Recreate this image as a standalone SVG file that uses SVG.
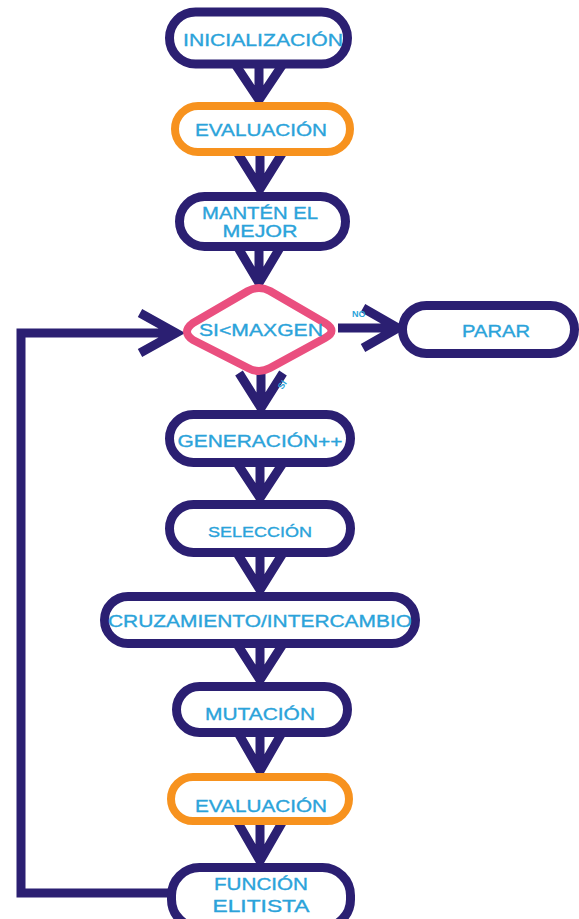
<svg xmlns="http://www.w3.org/2000/svg" width="579" height="919" viewBox="0 0 579 919">
<defs>
<style>
.nv{fill:#ffffff;stroke:#2b1f72;stroke-width:9}
.or{fill:#ffffff;stroke:#f7921e;stroke-width:8}
.pk{fill:#ffffff;stroke:#ea4f7f;stroke-width:8;stroke-linejoin:round}
.t{font-family:"Liberation Sans",Arial,sans-serif;font-size:17px;fill:#2ba3da;stroke:#2ba3da;stroke-width:0.35;text-anchor:middle}
.s{font-family:"Liberation Sans",Arial,sans-serif;font-size:9px;fill:#2ba3da;font-weight:bold}
.c{fill:none;stroke:#2b1f72;stroke-width:9;stroke-linejoin:miter;stroke-linecap:butt}
</style>
</defs>
<rect width="579" height="919" fill="#ffffff"/>
<g id="connectors">
<path class="c" d="M235 64 L259 100 L283 64 M259 64 V100"/>
<path class="c" d="M237 152 L260 189 L283 152 M260 152 V189"/>
<path class="c" d="M237 246 L259 283 L281 246 M259 246 V283"/>
<path class="c" d="M239 373 L261 408 L283 373 M261 373 V408"/>
<path class="c" d="M237 463 L260 498 L283 463 M260 463 V498"/>
<path class="c" d="M237 553 L260 590 L283 553 M260 553 V590"/>
<path class="c" d="M237 644 L260 680 L283 644 M260 644 V680"/>
<path class="c" d="M237 731 L260 771 L283 731 M260 731 V771"/>
<path class="c" d="M237 821 L260 861 L283 821 M260 821 V861"/>
<path class="c" d="M338 328 H400 M363 308 L398 328 L363 348"/>
<path class="c" d="M171 893 H21 V333 H176 M140 313 L176 333 L140 353"/>
<text class="s" x="352" y="317">NO</text>
<text class="s" x="276" y="388" transform="rotate(-55 281 383)">SI</text>
</g>
<g id="inicializacion">
<rect class="nv" x="169.5" y="12" width="178" height="52" rx="26"/>
<text class="t" x="263" y="46" textLength="160" lengthAdjust="spacingAndGlyphs">INICIALIZACIÓN</text>
</g>
<g id="evaluacion1">
<rect class="or" x="175" y="106" width="175" height="46" rx="23"/>
<text class="t" x="261" y="136" textLength="132" lengthAdjust="spacingAndGlyphs">EVALUACIÓN</text>
</g>
<g id="manten">
<rect class="nv" x="179.5" y="196.5" width="166" height="50" rx="25"/>
<text class="t" x="260" y="219" textLength="116" lengthAdjust="spacingAndGlyphs">MANTÉN EL</text>
<text class="t" x="260" y="237" textLength="75" lengthAdjust="spacingAndGlyphs">MEJOR</text>
</g>
<g id="decision">
<path class="pk" d="M193 323 L248 291 Q259 285 270 291 L325 323 Q338 331 325 338 L270 368 Q259 374 248 368 L193 340 Q181 332 193 323 Z"/>
<text class="t" x="261" y="336" textLength="124" lengthAdjust="spacingAndGlyphs">SI&lt;MAXGEN</text>
</g>
<g id="parar">
<rect class="nv" x="402.5" y="305.5" width="172" height="48" rx="24"/>
<text class="t" x="496" y="337" textLength="68" lengthAdjust="spacingAndGlyphs">PARAR</text>
</g>
<g id="generacion">
<rect class="nv" x="169.5" y="414.5" width="181" height="48" rx="24"/>
<text class="t" x="260" y="447" textLength="165" lengthAdjust="spacingAndGlyphs">GENERACIÓN++</text>
</g>
<g id="seleccion">
<rect class="nv" x="169.5" y="504.5" width="181" height="48" rx="24"/>
<text class="t" x="260" y="537" textLength="104" lengthAdjust="spacingAndGlyphs" style="font-size:15px">SELECCIÓN</text>
</g>
<g id="cruzamiento">
<rect class="nv" x="104.5" y="596.5" width="311" height="47" rx="23.5"/>
<text class="t" x="260" y="627" textLength="304" lengthAdjust="spacingAndGlyphs">CRUZAMIENTO/INTERCAMBIO</text>
</g>
<g id="mutacion">
<rect class="nv" x="176.5" y="686.5" width="171" height="46" rx="23"/>
<text class="t" x="260" y="720" textLength="110" lengthAdjust="spacingAndGlyphs">MUTACIÓN</text>
</g>
<g id="evaluacion2">
<rect class="or" x="171" y="777" width="178" height="44" rx="22"/>
<text class="t" x="261" y="812" textLength="132" lengthAdjust="spacingAndGlyphs">EVALUACIÓN</text>
</g>
<g id="funcion">
<rect class="nv" x="171.5" y="867.5" width="179" height="60" rx="28"/>
<text class="t" x="261" y="890" textLength="94" lengthAdjust="spacingAndGlyphs">FUNCIÓN</text>
<text class="t" x="261" y="912" textLength="97" lengthAdjust="spacingAndGlyphs">ELITISTA</text>
</g>
</svg>
